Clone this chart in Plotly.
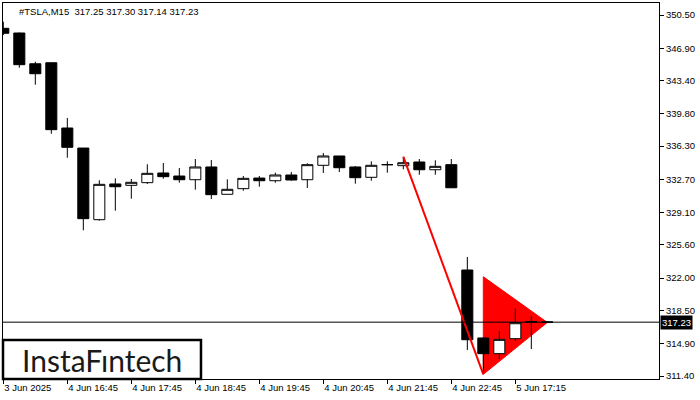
import plotly.graph_objects as go

# ---- data ----
bar_index = list(range(35))
open_ = [349.06, 348.55, 345.22, 345.33, 338.26, 336.09, 328.33, 332.20, 332.05, 332.34,
         333.39, 333.06, 332.66, 334.04, 331.08, 331.69, 332.84, 332.55, 333.17, 332.66,
         334.22, 335.23, 334.04, 332.92, 334.29, 334.18, 334.58, 333.74, 334.29, 322.88,
         315.52, 313.82, 315.44, 317.30, 317.25]
high = [349.77, 348.60, 345.44, 345.35, 339.34, 336.10, 332.60, 332.81, 332.74, 334.33,
        334.47, 333.93, 334.90, 334.79, 332.70, 333.06, 333.06, 333.42, 333.49, 334.44,
        335.55, 335.23, 334.14, 334.65, 334.65, 335.09, 334.90, 334.76, 334.90, 324.29,
        315.52, 316.27, 318.73, 317.90, 317.30]
low = [348.33, 344.79, 342.95, 337.64, 335.04, 327.18, 328.22, 329.30, 330.60, 332.20,
       332.77, 332.34, 331.58, 330.57, 331.08, 331.47, 331.90, 332.34, 332.55, 331.76,
       333.39, 333.49, 332.23, 332.55, 333.42, 333.79, 333.20, 333.20, 331.79, 314.22,
       311.69, 313.24, 315.19, 314.32, 317.14]
close = [348.52, 345.12, 344.14, 338.08, 336.17, 328.44, 332.16, 331.90, 332.38, 333.35,
         332.99, 332.66, 334.04, 331.04, 331.62, 332.81, 332.55, 333.17, 332.63, 334.29,
         335.23, 333.96, 332.88, 334.22, 334.29, 334.50, 333.74, 334.11, 331.79, 315.33,
         313.82, 315.37, 317.17, 317.25, 317.23]

tick_index = [0, 4, 8, 12, 16, 20, 24, 28, 32]
tick_labels = ["3 Jun 2025", "4 Jun 16:45", "4 Jun 17:45", "4 Jun 18:45", "4 Jun 19:45",
               "4 Jun 20:45", "4 Jun 21:45", "4 Jun 22:45", "5 Jun 17:15"]
price_ticks = [350.50, 346.90, 343.40, 339.80, 336.30, 332.70, 329.10, 325.60,
               322.00, 318.50, 314.90, 311.40]

pole_x = [25, 30]
pole_y = [335.15, 311.58]
pennant_x = [30, 30, 34]
pennant_y = [322.15, 311.58, 317.20]

last_price = 317.23
title_text = "#TSLA,M15\u00a0 317.25 317.30 317.14 317.23"

FONT = "Liberation Sans"

fig = go.Figure()

# pennant triangle as a shape drawn below the candles (data coordinates)
pennant_path = "M " + " L ".join(f"{x},{y}" for x, y in zip(pennant_x, pennant_y)) + " Z"
fig.add_shape(type="path", xref="x", yref="y", path=pennant_path, layer="below",
              fillcolor="#ff0000", line=dict(color="#ff0000", width=1))

fig.add_trace(go.Candlestick(
    x=bar_index, open=open_, high=high, low=low, close=close,
    increasing=dict(fillcolor="#ffffff", line=dict(color="#000000", width=1)),
    decreasing=dict(fillcolor="#000000", line=dict(color="#000000", width=1)),
    whiskerwidth=0, showlegend=False))

fig.add_trace(go.Scatter(x=pole_x, y=pole_y, mode="lines",
                         line=dict(color="#ff0000", width=2),
                         showlegend=False, hoverinfo="skip"))

fig.add_shape(type="line", xref="paper", x0=0, x1=1, yref="y", y0=last_price, y1=last_price,
              line=dict(color="#000000", width=1))

# logo box
fig.add_shape(type="rect", xref="paper", yref="paper", x0=0, x1=0.3018, y0=0, y1=0.1037,
              fillcolor="#ffffff", line=dict(color="#000000", width=2.5))
fig.add_annotation(xref="paper", yref="paper", x=0.151, y=0.05, text="InstaF\u0131ntech",
                   showarrow=False, xanchor="center", yanchor="middle",
                   font=dict(family="Lato", size=30, color="#1a1a1a"))

fig.add_annotation(xref="paper", yref="paper", x=0.0213, y=0.9787, text=title_text,
                   showarrow=False, xanchor="left", yanchor="middle",
                   font=dict(family=FONT, size=9.5, color="#000000"))

fig.add_annotation(xref="paper", yref="y", x=1, y=last_price, text=f"{last_price:.2f}",
                   showarrow=False, xanchor="left", yanchor="middle", xshift=1,
                   bgcolor="#000000", borderpad=1,
                   font=dict(family=FONT, size=9.5, color="#ffffff"))

fig.update_layout(
    width=700, height=400,
    margin=dict(l=3, r=41, t=3, b=21),
    paper_bgcolor="#ffffff", plot_bgcolor="#ffffff",
    showlegend=False,
    boxgap=0.31, boxgroupgap=0,
    font=dict(family=FONT, size=9.5, color="#000000"),
    xaxis=dict(range=[-0.02, 40.98], rangeslider=dict(visible=False),
               tickmode="array", tickvals=tick_index, ticktext=tick_labels,
               ticks="outside", ticklen=4, tickcolor="#000000",
               ticklabelposition="outside right",
               showgrid=False, zeroline=False,
               showline=True, linecolor="#000000", linewidth=1, mirror=True),
    yaxis=dict(range=[311.075, 351.80], side="right",
               tickmode="array", tickvals=price_ticks,
               ticktext=[f"{v:.2f}" for v in price_ticks],
               ticks="outside", ticklen=4, tickcolor="#000000",
               showgrid=False, zeroline=False,
               showline=True, linecolor="#000000", linewidth=1, mirror=True),
)

fig.write_html("out.html", config={"displayModeBar": False},
               post_script="document.body.style.margin='0';")
